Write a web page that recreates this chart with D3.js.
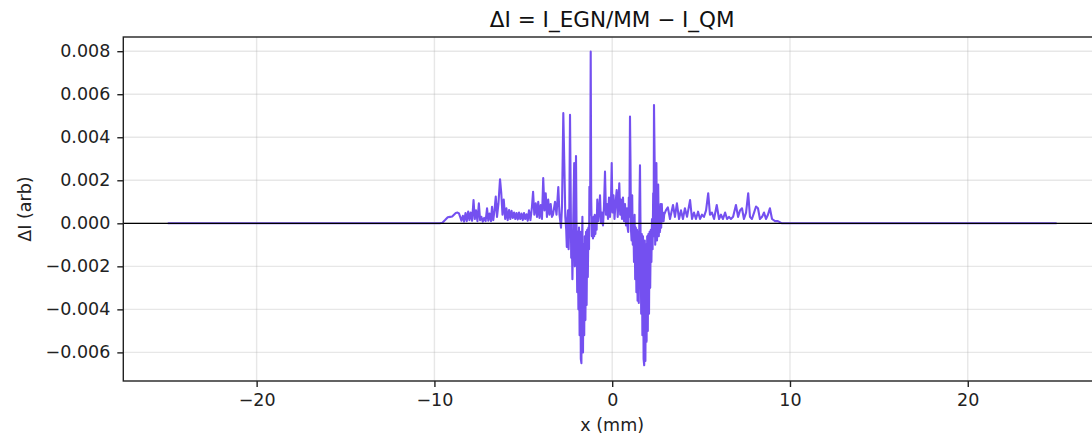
<!DOCTYPE html>
<html>
<head>
<meta charset="utf-8">
<script src="https://cdn.jsdelivr.net/npm/d3@7"></script>
<style>
html,body{margin:0;padding:0;background:#fff;}
svg{display:block;font-family:"DejaVu Sans",sans-serif;}
</style>
</head>
<body>
<svg id="chart" width="1092" height="442"></svg>
<script>
// ---- data ----
const titleText = "ΔI = I_EGN/MM − I_QM";
const xLabelText = "x (mm)";
const yLabelText = "ΔI (arb)";
const xTicks = [-20, -10, 0, 10, 20];
const yTicks = [-0.006, -0.004, -0.002, 0.000, 0.002, 0.004, 0.006, 0.008];

// x positions (mm)
const xPos = [
 -25, -15, -9.70,
 -9.55,-9.40,-9.25,-9.12,-9.00,-8.90,-8.80,-8.70,-8.62,-8.55,-8.48,-8.40,-8.33,-8.25,-8.18,-8.10,-8.03,-7.96,-7.88,
 -7.80,-7.73,-7.66,-7.58,-7.50,-7.43,-7.36,-7.28,-7.20,-7.12,-7.04,-6.97,-6.90,-6.82,-6.76,-6.69,-6.62,-6.55,-6.48,
 -6.40,-6.31,-6.24,-6.17,-6.10,-6.02,-5.95,-5.88,-5.80,-5.73,-5.66,-5.59,-5.52,-5.45,-5.38,-5.31,-5.24,-5.17,-5.10,
 -5.03,-4.96,-4.89,-4.82,-4.75,-4.68,-4.60,-4.52,-4.45,-4.38,-4.30,-4.23,-4.16,-4.09,-4.02,-3.95,-3.88,-3.81,-3.74,
 -3.67,-3.60,-3.53,-3.46,-3.39,
 -3.330,-3.217,-3.133,-3.032,-2.964,-2.880,-2.823,-2.750,-2.694,-2.638,
 -2.587,-2.553,-2.520,-2.486,-2.452,-2.418,-2.373,-2.340,-2.306,-2.272,
 -2.238,-2.205,-2.171,-2.137,-2.103,-2.069,-2.036,-2.002,-1.968,-1.934,
 -1.901,-1.867,-1.833,-1.799,-1.766,-1.732,-1.698,-1.676,-1.642,-1.608,
 -1.574,-1.541,-1.507,-1.473,-1.439,-1.406,-1.372,-1.338,-1.304,-1.282,
 -1.254,-1.237,-1.209,-1.181,-1.147,-1.114,-1.080,-1.046,-1.012,-0.979,
 -0.945,-0.911,-0.877,-0.838,
 -0.782,-0.731,-0.686,-0.630,-0.574,-0.517,-0.461,-0.405,-0.349,-0.292,
 -0.236,-0.180,-0.124,-0.067,-0.028,0.017,0.073,0.129,0.186,0.253,
 0.309,0.354,0.399,0.450,0.495,0.551,0.607,0.664,0.720,0.776,
 0.832,0.866,0.900,0.934,0.967,1.001,1.029,1.057,1.091,1.125,
 1.158,1.192,1.226,1.260,1.293,1.327,1.361,1.395,1.428,1.462,
 1.496,1.530,1.563,1.597,1.631,1.665,1.698,1.732,1.766,1.800,
 1.834,1.867,1.901,1.935,1.968,2.002,2.036,2.070,2.104,2.137,
 2.171,2.205,2.239,2.272,2.306,2.329,2.351,2.385,2.419,2.452,
 2.486,2.520,2.554,2.587,2.621,2.655,2.689,2.722,2.756,2.790,
 2.823,2.857,2.891,2.925,
 3.02,3.13,3.25,3.42,3.53,3.64,3.76,3.87,3.98,4.09,4.21,4.38,4.49,4.60,4.71,4.83,4.94,5.05,5.16,5.28,5.40,5.50,
 5.61,5.73,5.88,6.01,6.12,6.23,6.35,6.46,6.57,6.68,6.80,6.96,7.08,7.19,7.30,7.41,7.53,7.65,7.75,7.86,7.98,8.09,
 8.20,8.31,8.43,8.54,8.65,8.76,8.87,8.99,9.16,9.32,9.55,15,25
];

// ΔI values (arb)
const deltaI = [
 0, 0, 0,
 0.00003,0.00015,0.00028,0.00030,0.00032,0.00040,0.00048,0.00050,0.00046,0.00030,0.00012,0.00035,0.00008,0.00048,0.00010,0.00055,0.00015,0.00050,0.00012,
 0.00108,0.00020,0.00060,0.00010,0.00093,0.00015,0.00030,0.00008,0.00025,0.00010,0.00070,0.00012,0.00045,0.00010,0.00077,0.00015,0.00060,0.00124,0.00030,
 0.00090,0.00205,0.00140,0.00040,0.00110,0.00020,0.00070,0.00015,0.00062,0.00020,0.00058,0.00025,0.00050,0.00020,0.00048,0.00018,0.00050,0.00020,0.00045,
 0.00015,0.00048,0.00020,0.00042,0.00012,0.00060,0.00015,0.00070,0.00147,0.00040,0.00093,0.00030,0.00100,0.00025,0.00085,0.00020,0.00210,0.00060,0.00140,
 0.00030,0.00110,0.00040,0.00090,0.00030,
 0.0004,0.0010,0.0004,0.00168,0.0004,-0.0002,0.0008,0.00512,0.0028,0.0003,
 -0.0003,-0.0011,0.0002,0.0006,-0.0012,-0.0002,0.00504,0.0020,-0.0016,-0.0004,
 -0.0026,-0.0006,0.0012,0.0028,-0.0020,-0.0003,0.00313,-0.0005,-0.0032,-0.0004,
 -0.0040,-0.0002,-0.0052,-0.0004,-0.0063,-0.0065,-0.0008,0.0003,-0.0060,-0.0010,
 -0.0052,-0.0006,-0.0045,-0.0004,-0.0038,-0.0003,-0.0025,-0.0002,-0.0012,0.0017,
 0.0004,0.0015,0.00798,0.0012,-0.0006,0.0002,-0.0007,0.0003,-0.0006,0.0004,
 -0.0005,0.0003,-0.0003,0.0011,
 0.0001,0.0006,0.0013,0.0000,0.0005,-0.0001,0.0008,0.0024,0.0004,0.0009,
 0.0002,0.0012,0.0003,0.0010,0.0028,0.0005,0.0013,0.0002,0.0009,0.00155,
 0.0003,0.0010,0.00186,0.0004,0.0011,0.0002,0.0012,0.0001,0.0009,-0.0001,
 0.0007,-0.0002,-0.0004,0.0012,0.0003,0.00496,0.0028,-0.0003,-0.0008,0.0013,
 -0.0010,0.0000,-0.0018,0.0004,-0.0026,-0.0002,-0.0032,-0.0003,-0.0036,-0.0004,
 -0.0037,0.0008,0.0027,-0.0006,-0.0042,-0.0005,-0.0052,-0.0006,-0.0063,-0.0066,
 -0.0008,-0.0064,-0.0010,-0.0055,-0.0006,-0.0050,-0.0005,-0.0042,-0.0004,-0.0030,
 -0.0003,-0.0018,0.0002,-0.0012,0.0014,-0.0006,0.0055,0.0030,-0.0010,0.0004,
 0.0028,-0.0008,0.0004,0.0018,-0.0006,0.0003,-0.0004,0.0009,-0.0002,0.0009,
 0.0001,0.0005,0.0001,0.0004,
 0.0006,0.00074,0.0002,0.00085,0.0003,0.00093,0.0002,0.0006,0.0002,0.0007,0.0003,0.00108,0.0002,0.0005,0.0002,0.00054,0.0002,0.0004,0.0003,0.0006,0.0014,0.0004,
 0.0005,0.0002,0.00085,0.0002,0.0004,0.0002,0.0005,0.0002,0.0003,0.0002,0.0003,0.00085,0.0003,0.0006,0.0007,0.0002,0.0005,0.0014,0.0003,0.0002,0.0005,0.00078,
 0.0007,0.0002,0.0003,0.0005,0.0002,0.0004,0.0007,0.0002,0.0001,0.0001,0,0,0
];

// ---- layout ----
const plot = {left: 123.3, right: 1101.1, top: 37, bottom: 381};
const svg = d3.select("#chart");

const x = d3.scaleLinear().domain([-27.5, 27.5]).range([plot.left, plot.right]);
const y = d3.scaleLinear().domain([-0.00733, 0.00866]).range([plot.bottom, plot.top]);

const minus = s => s.replace(/-/g, "\u2212");
const fontSize = 17.5;

// grid
const grid = svg.append("g");
grid.selectAll("line.gx").data(xTicks).enter().append("line")
  .attr("x1", d => x(d)).attr("x2", d => x(d))
  .attr("y1", plot.top).attr("y2", plot.bottom)
  .attr("stroke", "#b0b0b0").attr("stroke-opacity", 0.3).attr("stroke-width", 1.4);
grid.selectAll("line.gy").data(yTicks).enter().append("line")
  .attr("x1", plot.left).attr("x2", plot.right)
  .attr("y1", d => y(d)).attr("y2", d => y(d))
  .attr("stroke", "#b0b0b0").attr("stroke-opacity", 0.3).attr("stroke-width", 1.4);

// data line
const n = Math.min(xPos.length, deltaI.length);
const pts = d3.range(n).map(i => [xPos[i], deltaI[i]]);
const line = d3.line().x(d => x(d[0])).y(d => y(d[1]));
svg.append("path").datum(pts)
  .attr("d", line)
  .attr("fill", "none")
  .attr("stroke", "#7450f0")
  .attr("stroke-width", 2.1)
  .attr("stroke-linejoin", "round");

// zero line
svg.append("line")
  .attr("x1", plot.left).attr("x2", plot.right)
  .attr("y1", y(0)).attr("y2", y(0))
  .attr("stroke", "#000").attr("stroke-width", 1.2);

// axes
const xAxis = d3.axisBottom(x).tickValues(xTicks).tickSize(6).tickPadding(7)
  .tickFormat(d => minus(d3.format("d")(d)));
const gx = svg.append("g").attr("transform", `translate(0,${plot.bottom})`).call(xAxis);
const yAxis = d3.axisLeft(y).tickValues(yTicks).tickSize(6).tickPadding(7)
  .tickFormat(d => minus(d3.format(".3f")(d)));
const gy = svg.append("g").attr("transform", `translate(${plot.left},0)`).call(yAxis);

[gx, gy].forEach(g => {
  g.select(".domain").remove();
  g.selectAll(".tick line").attr("stroke", "#222").attr("stroke-width", 1.4);
  g.selectAll(".tick text").attr("fill", "#222").style("font-size", fontSize + "px")
    .style("font-family", "DejaVu Sans");
});

// frame
svg.append("rect")
  .attr("x", plot.left).attr("y", plot.top)
  .attr("width", plot.right - plot.left).attr("height", plot.bottom - plot.top)
  .attr("fill", "none").attr("stroke", "#222").attr("stroke-width", 1.4);

// labels
svg.append("text").attr("x", (plot.left + plot.right) / 2).attr("y", 27)
  .attr("text-anchor", "middle").style("font-size", "21.5px").attr("fill", "#111")
  .text(titleText);
svg.append("text").attr("x", (plot.left + plot.right) / 2).attr("y", 431)
  .attr("text-anchor", "middle").style("font-size", fontSize + "px").attr("fill", "#222")
  .text(xLabelText);
svg.append("text").attr("transform", `translate(31,${(plot.top + plot.bottom) / 2}) rotate(-90)`)
  .attr("text-anchor", "middle").style("font-size", fontSize + "px").attr("fill", "#222")
  .text(yLabelText);
</script>
</body>
</html>
